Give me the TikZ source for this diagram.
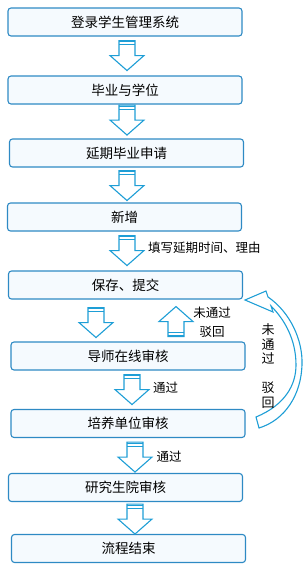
\documentclass[tikz,border=0pt]{standalone}
\usepackage{fontspec}
\setmainfont{Noto Sans CJK SC}
\usetikzlibrary{calc}
\definecolor{boxblue}{RGB}{46, 138, 196}
\definecolor{boxfill}{RGB}{245, 250, 254}
\definecolor{arrblue}{RGB}{30, 158, 214}
\tikzset{
  flowbox/.style={rounded corners=3pt, draw=boxblue, line width=1.1pt, fill=boxfill, minimum width=234pt, minimum height=28pt, inner sep=0pt, font=\fontsize{13.5}{16}\selectfont},
  notelabel/.style={inner sep=0pt, font=\fontsize{12.5}{15}\selectfont},
  arrline/.style={draw=arrblue, line width=1.1pt, fill=white, line join=miter},
  bandline/.style={draw=arrblue, line width=1.4pt},
  blockdown/.pic={
    \draw[arrline] (-8,0) -- (8,0) -- (8,15) -- (17,15) -- (0,30) -- (-17,15) -- (-8,15) -- cycle;
    \draw[bandline] (-8,1.2) -- (8,1.2);
    \draw[bandline, line width=0.8pt] (-8,4.2) -- (8,4.2);
  },
}
\begin{document}
\begin{tikzpicture}[x=1pt, y=-1pt]
  \useasboundingbox (0,0) rectangle (305,570);
  % boxes
  \node[flowbox] (login) at (125,22) {登录学生管理系统};
  \node[flowbox] (degree) at (125,90) {毕业与学位};
  \node[flowbox] (delay) at (126.5,153) {延期毕业申请};
  \node[flowbox] (add) at (124.5,217) {新增};
  \node[flowbox] (save) at (125.5,285) {保存、提交};
  \node[flowbox] (tutor) at (128,356) {导师在线审核};
  \node[flowbox] (unit) at (128,423.5) {培养单位审核};
  \node[flowbox] (grad) at (125.5,487.5) {研究生院审核};
  \node[flowbox] (done) at (128.5,548.5) {流程结束};
  % block arrows
  \pic at ($(login.south)+(2,4)$) {blockdown};
  \pic at ($(degree.south)+(2,0.5)$) {blockdown};
  \pic at ($(delay.south)+(0.5,3)$) {blockdown};
  \pic at ($(add.south)+(2.5,4)$) {blockdown};
  \pic at ($(save.south)+(-29.5,8)$) {blockdown};
  \pic[rotate=180] at ($(save.south)+(50.5,37)$) {blockdown};
  \pic at ($(tutor.south)+(4,4)$) {blockdown};
  \pic at ($(unit.south)+(7,4)$) {blockdown};
  \pic at ($(grad.south)+(9.5,2)$) {blockdown};
  % back arrow
  \coordinate (tip) at (245,300);
  \draw[arrline] (tip) -- (266,291) -- (268,297)
    .. controls (290,312) and (303,340) .. (302,365)
    .. controls (301,395) and (285,420) .. (259,428) -- (256,417)
    .. controls (285,405) and (296,385) .. (296,365)
    .. controls (296,340) and (285,320) .. (271,306) -- (273,312) -- cycle;
  % labels
  \node[notelabel, anchor=west] (lbfill) at (148,248) {填写延期时间、理由};
  \node[notelabel, align=center, font=\fontsize{12.5}{19}\selectfont] (lbback) at (212,322) {未通过\\驳回};
  \node[notelabel] (lbpass1) at (165.5,388) {通过};
  \node[notelabel] (lbpass2) at (169,457) {通过};
  \node[notelabel, align=center, font=\fontsize{13}{14.6}\selectfont] (lbside) at (268,366) {未\\通\\过\\ \\驳\\回};
\end{tikzpicture}
\end{document}
